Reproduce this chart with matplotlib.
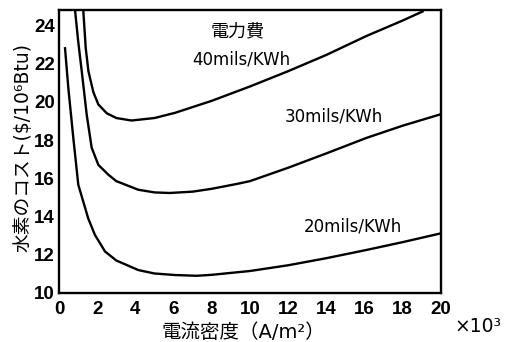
import numpy as np
import matplotlib
matplotlib.use('Agg')
import matplotlib.pyplot as plt

plt.rcParams['font.family'] = ['DejaVu Sans', 'Noto Sans CJK JP']

# 電力費ごとの曲線 (電流密度 x10^3 A/m2, コスト $/10^6Btu)
x_20 = [0.31, 0.49, 0.75, 1.01, 1.53, 1.88, 2.41, 3.0, 4.15, 5.0, 6.07, 7.2, 8.0, 10.0, 12.0, 14.0, 16.1, 18.0, 20.0]
y_20 = [22.86, 20.7, 18.1, 15.66, 13.9, 13.04, 12.17, 11.7, 11.2, 11.02, 10.94, 10.9, 10.95, 11.15, 11.45, 11.82, 12.25, 12.66, 13.12]

x_30 = [0.84, 1.0, 1.19, 1.45, 1.71, 2.06, 2.58, 3.0, 4.15, 5.0, 5.8, 7.0, 8.0, 9.3, 10.0, 12.0, 14.0, 16.1, 18.0, 20.0]
y_30 = [24.8, 23.2, 21.6, 19.33, 17.6, 16.7, 16.19, 15.85, 15.4, 15.26, 15.23, 15.3, 15.45, 15.7, 15.85, 16.55, 17.3, 18.11, 18.75, 19.35]

x_40 = [1.27, 1.4, 1.54, 1.8, 2.06, 2.5, 3.0, 3.8, 5.0, 6.07, 8.0, 10.0, 12.0, 14.0, 16.1, 18.0, 19.1]
y_40 = [24.8, 22.8, 21.6, 20.5, 19.86, 19.4, 19.15, 19.02, 19.15, 19.42, 20.05, 20.8, 21.6, 22.45, 23.44, 24.25, 24.75]

xticks = [0, 2, 4, 6, 8, 10, 12, 14, 16, 18, 20]
yticks = [10, 12, 14, 16, 18, 20, 22, 24]

fig = plt.figure(figsize=(5.14, 3.42), dpi=100)
ax = fig.add_axes([0.1148, 0.1433, 0.743, 0.8275])

for xs, ys in [(x_20, y_20), (x_30, y_30), (x_40, y_40)]:
    ax.plot(xs, ys, color='black', lw=1.7, solid_capstyle='butt')

ax.set_xlim(0, 20)
ax.set_ylim(10, 24.8)
ax.set_xticks(xticks)
ax.set_yticks(yticks)
ax.tick_params(length=0, labelsize=13.5)
ax.tick_params(axis='x', pad=6)
ax.tick_params(axis='y', pad=3)
for lab in ax.get_xticklabels() + ax.get_yticklabels():
    lab.set_fontfamily('Liberation Sans')
    lab.set_fontweight('bold')
for s in ax.spines.values():
    s.set_linewidth(1.7)

ax.text(9.35, 23.7, '電力費', fontsize=13, ha='center', va='center')
ax.text(7.0, 22.22, '40mils/KWh', fontsize=12, ha='left', va='center')
ax.text(11.8, 19.23, '30mils/KWh', fontsize=12, ha='left', va='center')
ax.text(12.83, 13.48, '20mils/KWh', fontsize=12, ha='left', va='center')

fig.text(243/514, 1 - 333/342, '電流密度（A/m²）', fontsize=14, ha='center', va='center')
fig.text(478/514, 1 - 326/342, '×10³', fontsize=13.5, ha='center', va='center')
fig.text(23/514, 1 - 148/342, '水素のコスト($/10⁶Btu)', fontsize=13.5, ha='center', va='center',
         rotation=90)

fig.savefig('out.png', dpi=100)
